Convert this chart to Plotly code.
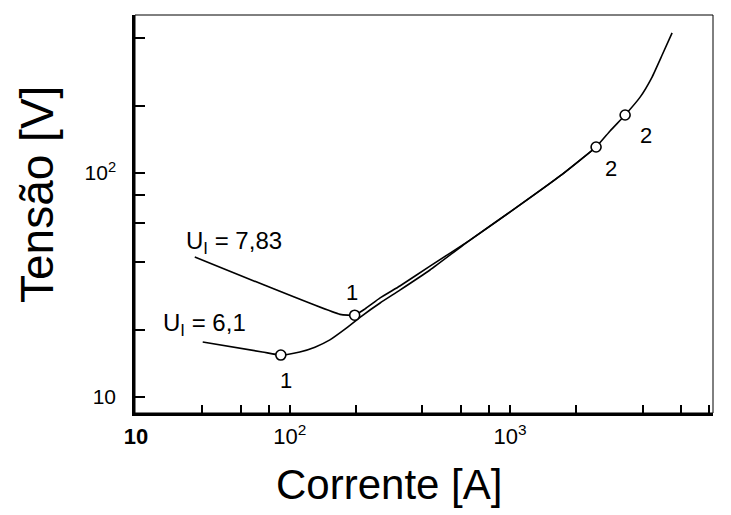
import math
import plotly.graph_objects as go

# Curve U_I = 7,83 (upper)
x_upper = [37.0, 169, 197, 219, 257, 316, 433, 658, 1110, 1688, 2460, 2848, 3333, 3899, 4419, 4909, 5448]
y_upper = [42.2, 23.4, 23.2, 24.7, 27.7, 31.3, 38.4, 50.2, 72.0, 97.0, 130.6, 154, 181.5, 218, 268, 336, 422]

# Curve U_I = 6,1 (lower)
x_lower = [40.2, 75, 91.0, 111, 130, 152, 178, 212, 257, 316, 433, 658, 1110, 1688, 2460]
y_lower = [17.6, 15.9, 15.4, 15.9, 16.7, 18.0, 20.1, 23.0, 26.3, 30.0, 36.9, 50.2, 72.0, 97.0, 130.6]

# Marked points (open circles) with their labels
mark_x = [197, 91.0, 2460, 3333]
mark_y = [23.2, 15.4, 130.6, 181.5]
mark_lbl = ["1", "1", "2", "2"]

curve_labels = ["U<sub>I</sub> = 7,83", "U<sub>I</sub> = 6,1"]

x_tickvals = [20, 40, 60, 80, 100, 200, 400, 600, 800, 1000, 2000, 4000, 6000, 8000]
x_ticktext = ["<b>10</b>", "", "", "", "10<sup>2</sup>", "", "", "", "", "10<sup>3</sup>", "", "", "", ""]
y_tickvals = [10, 20, 40, 60, 80, 100, 200, 400]
y_ticktext = ["10", "", "", "", "", "10<sup>2</sup>", "", ""]

FONT = "Liberation Sans, Arial, sans-serif"
L, R, T, B = 135, 18, 15, 102
W, H = 731, 515

fig = go.Figure()
fig.add_trace(go.Scatter(x=x_upper, y=y_upper, mode="lines",
                         line=dict(color="black", width=1.6, shape="spline", smoothing=0.4),
                         hoverinfo="skip", showlegend=False))
fig.add_trace(go.Scatter(x=x_lower, y=y_lower, mode="lines",
                         line=dict(color="black", width=1.6, shape="spline", smoothing=0.5),
                         hoverinfo="skip", showlegend=False))
fig.add_trace(go.Scatter(x=mark_x, y=mark_y, mode="markers",
                         marker=dict(symbol="circle", size=10, color="white",
                                     line=dict(color="black", width=1.6)),
                         showlegend=False))

lg = math.log10

# point labels
shifts = [(-3, 23), (5, -25), (15, -21), (21, -21)]
for xv, yv, t, (dx, dy) in zip(mark_x, mark_y, mark_lbl, shifts):
    fig.add_annotation(x=lg(xv), y=lg(yv), xref="x", yref="y", text=t, showarrow=False,
                       xanchor="center", yanchor="middle",
                       xshift=dx, yshift=dy, font=dict(family=FONT, size=22, color="black"))

# curve labels
fig.add_annotation(x=lg(x_upper[0]), y=lg(y_upper[0]), xref="x", yref="y", text=curve_labels[0],
                   showarrow=False, xanchor="left", yanchor="middle", xshift=-11, yshift=14,
                   font=dict(family=FONT, size=24, color="black"))
fig.add_annotation(x=lg(x_lower[0]), y=lg(y_lower[0]), xref="x", yref="y", text=curve_labels[1],
                   showarrow=False, xanchor="left", yanchor="middle", xshift=-42, yshift=18,
                   font=dict(family=FONT, size=24, color="black"))

# axis titles (pixel positions converted to paper coordinates)
def px(xp):
    return (xp - L) / (W - L - R)

def py(yp):
    return 1 - (yp - T) / (H - T - B)

fig.add_annotation(x=px(389), y=py(485), xref="paper", yref="paper", text="Corrente [A]",
                   showarrow=False, xanchor="center", yanchor="middle",
                   font=dict(family=FONT, size=42, color="black"))
fig.add_annotation(x=px(37), y=py(195), xref="paper", yref="paper", text="Tensão [V]",
                   showarrow=False, xanchor="center", yanchor="middle",
                   textangle=-90, font=dict(family=FONT, size=46, color="black"))

fig.add_shape(type="rect", xref="paper", yref="paper", x0=0, y0=0, x1=1, y1=1,
              line=dict(color="black", width=1))

fig.update_xaxes(type="log", range=[1.2967, 3.922], tickmode="array",
                 tickvals=x_tickvals, ticktext=x_ticktext, ticks="inside", ticklen=8,
                 tickwidth=1.5, tickcolor="black", showline=True, linecolor="black", linewidth=2.5,
                 showgrid=False, zeroline=False, ticklabelstandoff=2,
                 tickfont=dict(family=FONT, size=22, color="black"))
fig.update_yaxes(type="log", range=[0.929, 2.705], tickmode="array",
                 tickvals=y_tickvals, ticktext=y_ticktext, ticks="inside", ticklen=10,
                 tickwidth=1.5, tickcolor="black", showline=True, linecolor="black", linewidth=2.5,
                 showgrid=False, zeroline=False, ticklabelstandoff=12,
                 tickfont=dict(family=FONT, size=21, color="black"))

fig.update_layout(width=W, height=H, margin=dict(l=L, r=R, t=T, b=B),
                  paper_bgcolor="white", plot_bgcolor="white", showlegend=False)

fig.write_html("out.html")
